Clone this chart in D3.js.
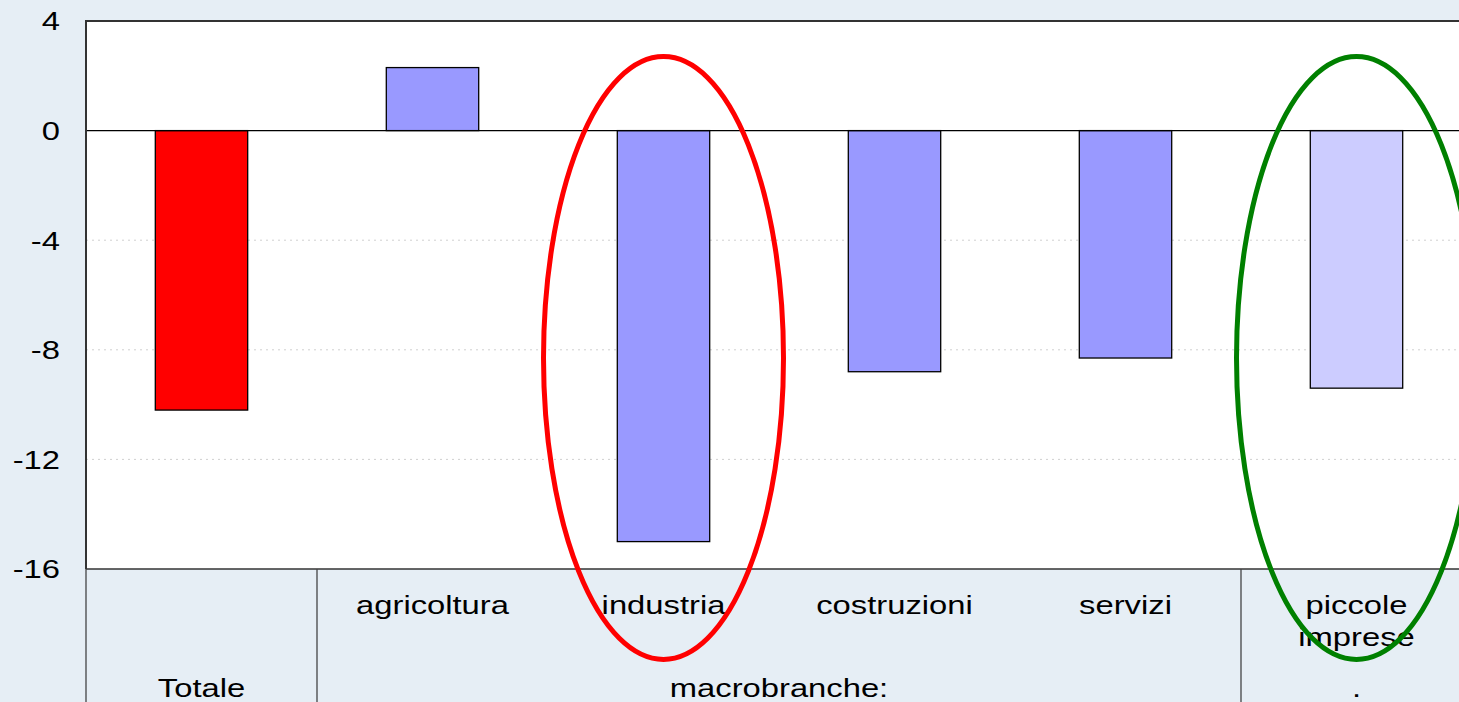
<!DOCTYPE html>
<html>
<head>
<meta charset="utf-8">
<script src="https://cdn.jsdelivr.net/npm/d3@7"></script>
<style>
  html, body { margin: 0; padding: 0; background: #e6eef5; }
  svg { display: block; font-family: "Liberation Sans", Arial, sans-serif; }
</style>
</head>
<body>
<div id="chart"></div>
<script>
const categories = ["Totale", "agricoltura", "industria", "costruzioni", "servizi", "piccole imprese"];
const values = [-10.2, 2.3, -15.0, -8.8, -8.3, -9.4];
const barColors = ["#ff0000", "#9999ff", "#9999ff", "#9999ff", "#9999ff", "#ccccff"];
const yTicks = [4, 0, -4, -8, -12, -16];
const groups = [
  {label: "Totale", from: 0, to: 0},
  {label: "macrobranche:", from: 1, to: 4},
  {label: ".", from: 5, to: 5}
];
const highlights = [{cat: "industria", color: "#ff0000"}, {cat: "piccole imprese", color: "#008000"}];

const W = 1459, H = 702;
const margin = {top: 21, left: 86};
const plotW = 1386, plotH = 548;
const stretch = 1.26;   // text in the original looks widened
const fs = "26px";

const svg = d3.select("#chart").append("svg")
  .attr("width", W).attr("height", H);

svg.append("rect").attr("width", W).attr("height", H).attr("fill", "#e6eef5");

const x = d3.scaleBand().domain(categories).range([margin.left, margin.left + plotW])
  .paddingInner(0.6).paddingOuter(0.3);
const band = d3.scaleBand().domain(categories).range([margin.left, margin.left + plotW]);
const y = d3.scaleLinear().domain([-16, 4]).range([margin.top + plotH, margin.top]);

// plot area
svg.append("rect")
  .attr("x", margin.left).attr("y", margin.top)
  .attr("width", plotW).attr("height", plotH)
  .attr("fill", "#ffffff");

// gridlines
svg.append("g").selectAll("line")
  .data(yTicks.filter(d => d !== 0 && d !== 4 && d !== -16))
  .join("line")
    .attr("x1", margin.left).attr("x2", margin.left + plotW)
    .attr("y1", d => y(d)).attr("y2", d => y(d))
    .attr("stroke", "#d0d0d0").attr("stroke-width", 1)
    .attr("stroke-dasharray", "2,4");

// y axis labels
svg.append("g").selectAll("text")
  .data(yTicks)
  .join("text")
    .attr("transform", d => `translate(60,${y(d)}) scale(${stretch},1)`)
    .attr("dy", "0.36em")
    .attr("text-anchor", "end")
    .style("font-size", fs)
    .attr("fill", "#000")
    .text(d => d);

// bars
svg.append("g").selectAll("rect")
  .data(categories)
  .join("rect")
    .attr("x", d => x(d))
    .attr("width", x.bandwidth())
    .attr("y", (d, i) => y(Math.max(0, values[i])))
    .attr("height", (d, i) => Math.abs(y(values[i]) - y(0)))
    .attr("fill", (d, i) => barColors[i])
    .attr("stroke", "#000").attr("stroke-width", 1.3);

// zero line
svg.append("line")
  .attr("x1", margin.left).attr("x2", margin.left + plotW)
  .attr("y1", y(0)).attr("y2", y(0))
  .attr("stroke", "#000").attr("stroke-width", 1.2);

// plot border
svg.append("path")
  .attr("d", `M${margin.left},${margin.top + plotH}V${margin.top}H${margin.left + plotW}`)
  .attr("fill", "none").attr("stroke", "#333").attr("stroke-width", 2);
svg.append("line")
  .attr("x1", margin.left).attr("x2", margin.left + plotW)
  .attr("y1", y(-16)).attr("y2", y(-16))
  .attr("stroke", "#333").attr("stroke-width", 1.5);

// category table separators
const sepX = [band(categories[0]), band(categories[1]), band(categories[5])];
svg.append("g").selectAll("line")
  .data(sepX)
  .join("line")
    .attr("x1", d => d).attr("x2", d => d)
    .attr("y1", y(-16)).attr("y2", H)
    .attr("stroke", "#444").attr("stroke-width", 1.3);

// category labels (first row)
const row1 = svg.append("g").selectAll("text")
  .data(categories.slice(1))
  .join("text")
    .attr("transform", d => `translate(${band(d) + band.bandwidth() / 2},614) scale(${stretch},1)`)
    .attr("text-anchor", "middle")
    .style("font-size", fs)
    .attr("fill", "#000");
row1.each(function(d) {
  const words = d === "piccole imprese" ? ["piccole", "imprese"] : [d];
  d3.select(this).selectAll("tspan").data(words).join("tspan")
    .attr("x", 0)
    .attr("dy", (w, i) => i === 0 ? 0 : "1.24em")
    .text(w => w);
});

// group labels (second row)
svg.append("g").selectAll("text")
  .data(groups)
  .join("text")
    .attr("transform", g => `translate(${(band(categories[g.from]) + band(categories[g.to]) + band.bandwidth()) / 2},697) scale(${stretch},1)`)
    .attr("text-anchor", "middle")
    .style("font-size", fs)
    .attr("fill", "#000")
    .text(g => g.label);

// highlight ellipses
svg.append("g").selectAll("ellipse")
  .data(highlights)
  .join("ellipse")
    .attr("cx", h => band(h.cat) + band.bandwidth() / 2)
    .attr("cy", y(-8.3))
    .attr("rx", 120)
    .attr("ry", y(-15.0) - y(-4.0))
    .attr("fill", "none")
    .attr("stroke", h => h.color)
    .attr("stroke-width", 5);
</script>
</body>
</html>
